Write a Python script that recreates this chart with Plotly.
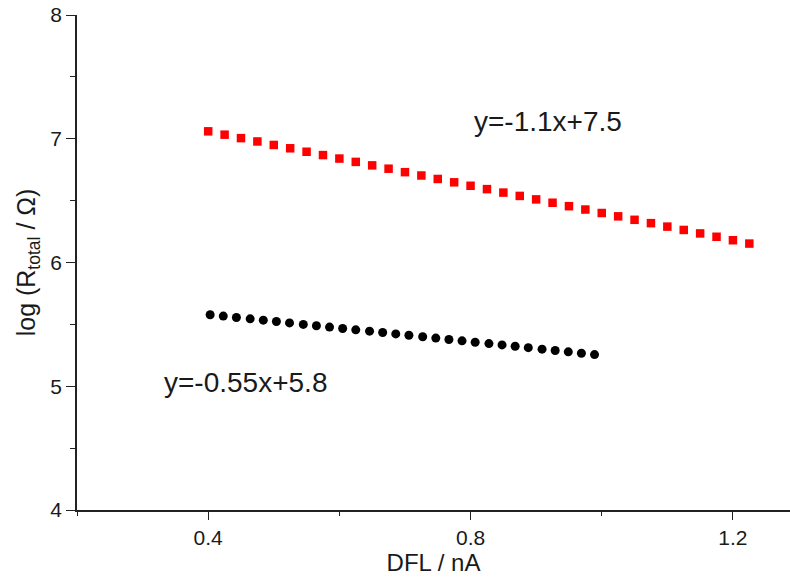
import plotly.graph_objects as go

# Upper series (red squares): DFL in nA, log of total resistance
dfl_red = [0.400, 0.425, 0.450, 0.475, 0.500, 0.525, 0.550, 0.575, 0.600, 0.625,
           0.650, 0.675, 0.700, 0.725, 0.750, 0.775, 0.800, 0.825, 0.850, 0.875,
           0.900, 0.925, 0.950, 0.975, 1.000, 1.025, 1.050, 1.075, 1.100, 1.125,
           1.150, 1.175, 1.200, 1.225]
logr_red = [7.060, 7.033, 7.005, 6.978, 6.950, 6.923, 6.895, 6.868, 6.840, 6.813,
            6.785, 6.758, 6.730, 6.703, 6.675, 6.648, 6.620, 6.593, 6.565, 6.538,
            6.510, 6.483, 6.455, 6.428, 6.400, 6.373, 6.345, 6.318, 6.290, 6.263,
            6.235, 6.208, 6.180, 6.153]

# Lower series (black circles)
dfl_black = [0.403, 0.423, 0.443, 0.464, 0.484, 0.504, 0.524, 0.545, 0.565, 0.585,
             0.605, 0.625, 0.646, 0.666, 0.686, 0.706, 0.727, 0.747, 0.767, 0.787,
             0.807, 0.828, 0.848, 0.868, 0.888, 0.909, 0.929, 0.949, 0.969, 0.989]
logr_black = [5.578, 5.567, 5.556, 5.545, 5.534, 5.523, 5.512, 5.500, 5.489, 5.478,
              5.467, 5.456, 5.445, 5.434, 5.423, 5.412, 5.400, 5.389, 5.378, 5.367,
              5.356, 5.345, 5.334, 5.323, 5.312, 5.300, 5.289, 5.278, 5.267, 5.256]

fit_labels = ["y=-1.1x+7.5", "y=-0.55x+5.8"]
x_ticks = [0.4, 0.8, 1.2]
x_tick_text = ["0.4", "0.8", "1.2"]
y_ticks = [4, 5, 6, 7, 8]

FONT = "Arial, Liberation Sans, sans-serif"
AXIS_COLOR = "#222222"
TEXT_COLOR = "#1a1a1a"

fig = go.Figure()
fig.add_trace(go.Scatter(
    x=dfl_red, y=logr_red, mode="markers",
    marker=dict(symbol="square", size=8.5, color="#ff0000", line=dict(width=0)),
    showlegend=False,
))
fig.add_trace(go.Scatter(
    x=dfl_black, y=logr_black, mode="markers",
    marker=dict(symbol="circle", size=9, color="#000000", line=dict(width=0)),
    showlegend=False,
))

fig.add_annotation(x=0.802, y=7.14, text=fit_labels[0], showarrow=False,
                   xanchor="left", yanchor="middle",
                   font=dict(family=FONT, size=28, color=TEXT_COLOR))
fig.add_annotation(x=0.33, y=5.03, text=fit_labels[1], showarrow=False,
                   xanchor="left", yanchor="middle",
                   font=dict(family=FONT, size=28, color=TEXT_COLOR))

fig.update_layout(
    width=790, height=581,
    margin=dict(l=77, r=0, t=15, b=71),
    paper_bgcolor="white", plot_bgcolor="white",
    font=dict(family=FONT, color=TEXT_COLOR),
    xaxis=dict(
        range=[0.2, 1.287], showgrid=False, zeroline=False,
        showline=True, linecolor=AXIS_COLOR, linewidth=1.6,
        ticks="outside", ticklen=8, tickwidth=1.4, tickcolor=AXIS_COLOR,
        tickvals=x_ticks, ticktext=x_tick_text,
        tickfont=dict(family=FONT, size=21, color=TEXT_COLOR),
        minor=dict(ticks="outside", ticklen=4, tickwidth=1.4, tickcolor=AXIS_COLOR,
                   dtick=0.2, tick0=0.2, showgrid=False),
        title=dict(text="DFL / nA", font=dict(family=FONT, size=24, color=TEXT_COLOR),
                   standoff=6),
    ),
    yaxis=dict(
        range=[4, 8], showgrid=False, zeroline=False,
        showline=True, linecolor=AXIS_COLOR, linewidth=1.6,
        ticks="outside", ticklen=9, tickwidth=1.4, tickcolor=AXIS_COLOR,
        tickvals=y_ticks,
        tickfont=dict(family=FONT, size=21, color=TEXT_COLOR),
        minor=dict(ticks="outside", ticklen=5, tickwidth=1.4, tickcolor=AXIS_COLOR,
                   dtick=0.5, tick0=4, showgrid=False),
        title=dict(text="log (R<sub>total</sub> / Ω)",
                   font=dict(family=FONT, size=25, color=TEXT_COLOR),
                   standoff=8),
    ),
)

fig.write_html("out.html")
